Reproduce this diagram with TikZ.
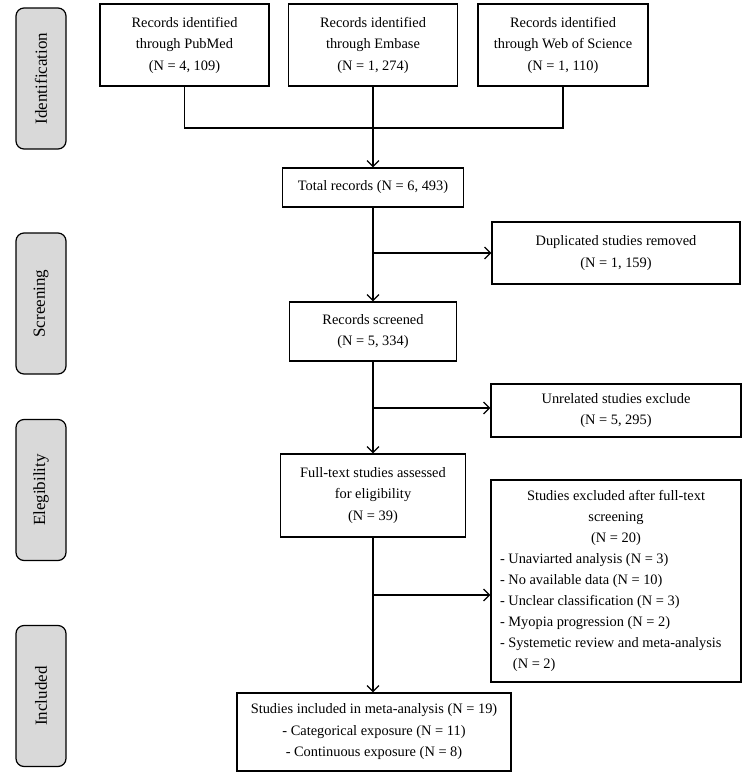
\documentclass[tikz,border=0pt]{standalone}
\usepackage{fontspec}
\setmainfont{Liberation Serif}
\usetikzlibrary{arrows.meta}
\begin{document}
\begin{tikzpicture}[x=1pt,y=-1pt,
  box/.style={draw,line width=1.2pt,align=center,inner sep=2pt,font=\fontsize{14.4}{21.5}\selectfont},
  phase/.style={draw,line width=1.2pt,fill=phasegrey,rounded corners=8pt,minimum width=141pt,minimum height=50pt,font=\fontsize{17}{19}\selectfont,rotate=90},
  link/.style={line width=1.2pt},
  arr/.style={line width=1.2pt,-{Straight Barb[length=6pt,width=12pt]}}]
  \definecolor{phasegrey}{HTML}{D9D9D9}
  \useasboundingbox (0,0) rectangle (744,774);
  % stage labels
  \node [phase] (phident) at (41,78.5) {Identification};
  \node [phase] (phscreen) at (41,303.5) {Screening};
  \node [phase] (phelig) at (41,490) {Elegibility};
  \node [phase] (phincl) at (41,696) {Included};
  % databases
  \node [box,minimum width=169pt,minimum height=82pt] (pubmed) at (184.5,45) {Records identified\\through PubMed\\(N = 4, 109)};
  \node [box,minimum width=169pt,minimum height=82pt] (embase) at (373,45) {Records identified\\through Embase\\(N = 1, 274)};
  \node [box,minimum width=170pt,minimum height=82pt] (wos) at (563,45) {Records identified\\through Web of Science\\(N = 1, 110)};
  % main column
  \node [box,minimum width=181pt,minimum height=39pt] (total) at (373,187.5) {Total records (N = 6, 493)};
  \node [box,minimum width=167pt,minimum height=59pt] (screened) at (373,331.5) {Records screened\\(N = 5, 334)};
  \node [box,minimum width=185pt,minimum height=83pt] (fulltext) at (373,495.5) {Full-text studies assessed\\for eligibility\\(N = 39)};
  \node [box,minimum width=274pt,minimum height=78pt] (included) at (374,732) {Studies included in meta-analysis (N = 19)\\- Categorical exposure (N = 11)\\- Continuous exposure (N = 8)};
  % exclusions
  \node [box,minimum width=248pt,minimum height=62pt] (dupl) at (616,253) {Duplicated studies removed\\(N = 1, 159)};
  \node [box,minimum width=250pt,minimum height=53pt] (unrel) at (616,410.5) {Unrelated studies exclude\\(N = 5, 295)};
  \node [box,minimum width=250pt,minimum height=202pt,inner xsep=8pt,text width=232pt,align=none,font=\fontsize{14.4}{21}\selectfont] (excl) at (616,581)
    {\centering Studies excluded after full-text\\screening\\(N = 20)\par
     \raggedright - Unaviarted analysis (N = 3)\\- No available data (N = 10)\\- Unclear classification (N = 3)\\- Myopia progression (N = 2)\\- Systemetic review and meta-analysis\\\hspace*{0.9em}(N = 2)\par};
  % connectors
  \coordinate (merge) at (373,128);
  \draw [link] (pubmed.south) |- (wos.south |- merge) -- (wos.south);
  \draw [arr] (embase.south) -- (total.north);
  \draw [arr] (total.south) -- (screened.north);
  \draw [arr] (total.south |- dupl.west) -- (dupl.west);
  \draw [arr] (screened.south) -- (fulltext.north);
  \coordinate (unrelin) at (373,408);
  \draw [arr] (unrelin) -- (unrelin -| unrel.west);
  \draw [arr] (fulltext.south) -- (fulltext.south |- included.north);
  \coordinate (exclin) at (373,595);
  \draw [arr] (exclin) -- (exclin -| excl.west);
\end{tikzpicture}
\end{document}
